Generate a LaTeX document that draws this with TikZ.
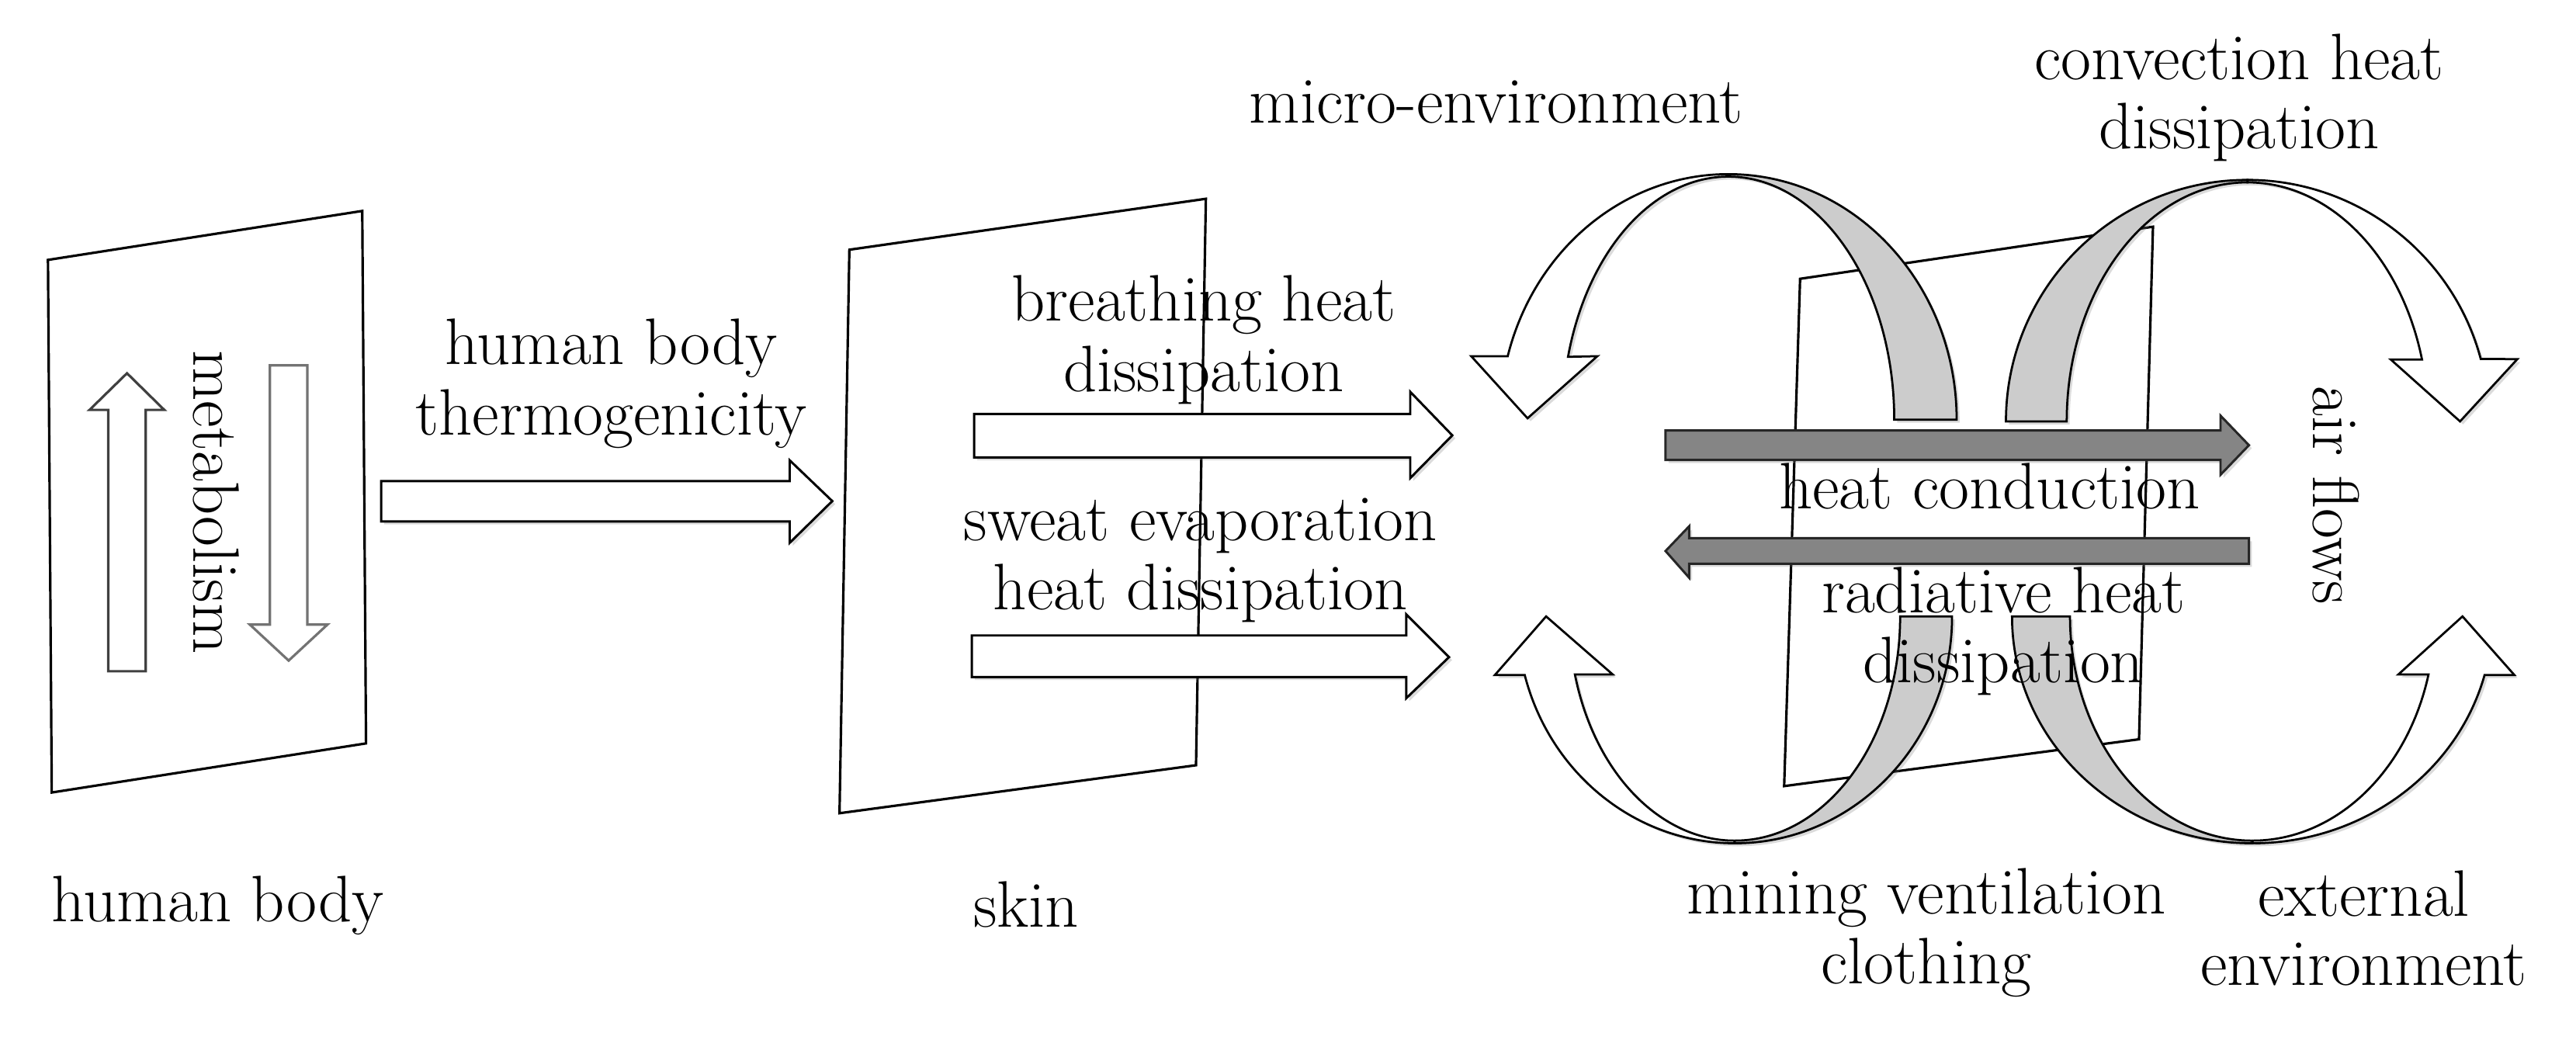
\documentclass[tikz,border=0pt]{standalone}
\usetikzlibrary{shadows}
\begin{document}
\begin{tikzpicture}[x=1pt,y=1pt,
  lbl/.style={font=\fontsize{40}{42}\selectfont, inner sep=0pt, anchor=base},
  panel/.style={draw=black, line width=1.5pt, line join=miter},
  shad/.style={drop shadow={shadow xshift=1.8pt, shadow yshift=-1.8pt, opacity=0.28}},
  blockarrow/.style={draw=black, line width=1.4pt, fill=white, line join=miter, shad},
  metarrow/.style={line width=1.5pt, fill=white, line join=miter},
  heatarrow/.style={draw=black!85, line width=1.4pt, fill=black!48, line join=miter, shad},
  ribwhite/.style={draw=black, line width=1.3pt, fill=white, line join=miter, shad},
  ribgray/.style={draw=black, line width=1.3pt, fill=black!20, line join=miter, shad}
]
\useasboundingbox (0,0) rectangle (1568,-633);
\fill[white] (0,0) rectangle (1568,-633);

% ---------- human body panel ----------
\draw[panel, fill=white] (29.2,-158.2) -- (220.5,-128.4) -- (222.8,-452.5) -- (31.5,-482.4) -- cycle;
\draw[metarrow, draw=black!75] (65.9,-408.6) -- (65.9,-249.5) -- (54.5,-249.5) -- (77.3,-227.2) -- (100,-249.5) -- (88.7,-249.5) -- (88.7,-408.6) -- cycle;
\draw[metarrow, draw=black!55] (164.3,-222.4) -- (187.1,-222.4) -- (187.1,-380.2) -- (199.3,-380.2) -- (175.7,-402.1) -- (152.1,-380.2) -- (164.3,-380.2) -- cycle;
\node[lbl, rotate=-90] (metab) at (118,-305.7) {metabolism};
\node[lbl] (hb) at (132.6,-561) {human body};

% ---------- thermogenicity arrow ----------
\draw[blockarrow] (232,-292.8) -- (480.7,-292.8) -- (480.7,-280.2) -- (506.6,-305) -- (480.7,-330.4) -- (480.7,-317.4) -- (232,-317.4) -- cycle;
\node[lbl] (hbt1) at (372,-222) {human body};
\node[lbl] (hbt2) at (372,-264.8) {thermogenicity};

% ---------- skin panel ----------
\draw[panel, fill=white] (517,-152) -- (734,-121) -- (728,-465.8) -- (511,-495) -- cycle;
\node[lbl] (skin) at (624.6,-564.2) {skin};
\draw[blockarrow] (593,-252) -- (858.4,-252) -- (858.4,-238.5) -- (884,-265) -- (858.4,-291) -- (858.4,-278.4) -- (593,-278.4) -- cycle;
\draw[blockarrow] (591.5,-386.8) -- (856,-386.8) -- (856,-374) -- (882,-400) -- (856,-425) -- (856,-412.1) -- (591.5,-412.1) -- cycle;
\node[lbl] (br1) at (732.7,-195.3) {breathing heat};
\node[lbl] (br2) at (732.7,-238.2) {dissipation};
\node[lbl] (sw1) at (730.7,-329.1) {sweat evaporation};
\node[lbl] (sw2) at (730.7,-371.1) {heat dissipation};

% ---------- clothing plate ----------
\draw[panel] (1095.7,-169.7) -- (1310.5,-138) -- (1302,-450) -- (1086,-478.5) -- cycle;

% ---------- ribbons: top-left ----------
\draw[ribwhite] (954.44,-217.2) arc[start angle=165, end angle=90, x radius=101, y radius=148]
  -- (1052,-106) arc[start angle=90, end angle=165, x radius=139, y radius=149.5]
  -- (895.5,-216.8) -- (929.8,-254.6) -- (972.3,-216.8) -- cycle;
\draw[ribgray] (1052,-106) arc[start angle=90, end angle=0, x radius=139, y radius=149.5]
  -- (1153,-255.5) arc[start angle=0, end angle=90, x radius=101, y radius=148] -- cycle;

% ---------- ribbons: top-right ----------
\draw[ribwhite] (1474.25,-218.84) arc[start angle=15, end angle=90, x radius=110, y radius=145.5]
  -- (1368,-109.5) arc[start angle=90, end angle=15, x radius=147, y radius=147]
  -- (1532.3,-218.6) -- (1497.4,-256.5) -- (1455.2,-218.8) -- cycle;
\draw[ribgray] (1368,-109.5) arc[start angle=90, end angle=180, x radius=147, y radius=147]
  -- (1258,-256.5) arc[start angle=180, end angle=90, x radius=110, y radius=145.5] -- cycle;

% ---------- ribbons: bottom-left ----------
\draw[ribwhite] (958.63,-410.53) arc[start angle=195, end angle=270, x radius=100.7, y radius=136.5]
  -- (1055.9,-513.3) arc[start angle=270, end angle=195, x radius=132.3, y radius=138.1]
  -- (909.9,-410.9) -- (941.1,-375.2) -- (981.6,-410.5) -- cycle;
\draw[ribgray] (1055.9,-513.3) arc[start angle=270, end angle=360, x radius=132.3, y radius=138.1]
  -- (1156.6,-375.2) arc[start angle=360, end angle=270, x radius=100.7, y radius=136.5] -- cycle;

% ---------- ribbons: bottom-right ----------
\draw[ribwhite] (1478.22,-410.53) arc[start angle=345, end angle=270, x radius=111, y radius=136.5]
  -- (1371,-513.3) arc[start angle=270, end angle=345, x radius=146.3, y radius=138.1]
  -- (1530.5,-410.9) -- (1498.9,-375.2) -- (1459.9,-410.5) -- cycle;
\draw[ribgray] (1371,-513.3) arc[start angle=270, end angle=180, x radius=146.3, y radius=138.1]
  -- (1260,-375.2) arc[start angle=180, end angle=270, x radius=111, y radius=136.5] -- cycle;

% ---------- heat arrows ----------
\draw[heatarrow] (1013.8,-262) -- (1351.6,-262) -- (1351.6,-253) -- (1368.9,-271) -- (1351.6,-289) -- (1351.6,-280) -- (1013.8,-280) -- cycle;
\draw[heatarrow] (1368.9,-327.6) -- (1028.2,-327.6) -- (1028.2,-320.3) -- (1013.8,-335.4) -- (1028.2,-351.7) -- (1028.2,-343.2) -- (1368.9,-343.2) -- cycle;

% ---------- labels on the right ----------
\node[lbl, anchor=base west] (micro) at (760.4,-74.9) {micro-environment};
\node[lbl] (cv1) at (1363,-48.5) {convection heat};
\node[lbl] (cv2) at (1363,-90.5) {dissipation};
\node[lbl] (hc) at (1211,-309.5) {heat conduction};
\node[lbl] (rd1) at (1219.5,-373.2) {radiative heat};
\node[lbl] (rd2) at (1219.5,-415.3) {dissipation};
\node[lbl, rotate=-90] (air) at (1408.2,-301.6) {air flows};
\node[lbl] (mv1) at (1172.5,-556.5) {mining ventilation};
\node[lbl] (mv2) at (1172.5,-598.7) {clothing};
\node[lbl] (ex1) at (1438.8,-557.6) {external};
\node[lbl] (ex2) at (1438.8,-599.8) {environment};
\end{tikzpicture}
\end{document}
